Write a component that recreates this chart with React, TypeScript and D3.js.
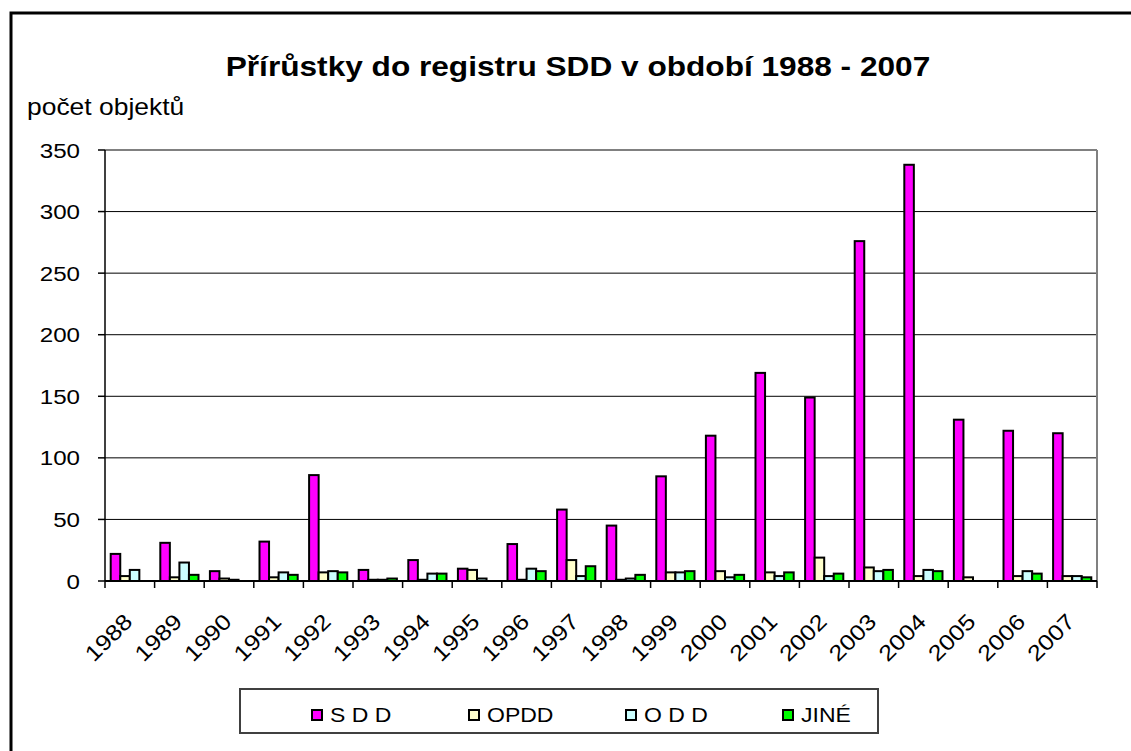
import React from 'react';
import * as d3 from 'd3';

// data
const years = ['1988', '1989', '1990', '1991', '1992', '1993', '1994', '1995', '1996', '1997',
  '1998', '1999', '2000', '2001', '2002', '2003', '2004', '2005', '2006', '2007'];
const sdd = [22, 31, 8, 32, 86, 9, 17, 10, 30, 58, 45, 85, 118, 169, 149, 276, 338, 131, 122, 120];
const opdd = [4, 3, 2, 3, 7, 1, 1, 9, 1, 17, 1, 7, 8, 7, 19, 11, 4, 3, 4, 4];
const odd = [9, 15, 1, 7, 8, 1, 6, 2, 10, 4, 2, 7, 3, 4, 4, 8, 9, 0, 8, 4];
const jine = [0, 5, 0, 5, 7, 2, 6, 0, 8, 12, 5, 8, 5, 7, 6, 9, 8, 0, 6, 3];
const seriesNames = ['S D D', 'OPDD', 'O D D', 'JINÉ'];
const seriesColors = ['#ff00ff', '#ffffcc', '#ccffff', '#00ff00'];
const yTicks = [0, 50, 100, 150, 200, 250, 300, 350];

const W = 1131;
const H = 751;
const plot = { left: 105, right: 1097, top: 150, bottom: 581 };
const FONT = '"Liberation Sans", Arial, sans-serif';
const SX = 1.15; // text in the picture is a bit wider than plain Arial

const Txt = ({ x, y, size, anchor = 'start', bold = false, children }: any) => (
  <text
    transform={`translate(${x},${y}) scale(${SX},1)`}
    fontFamily={FONT}
    fontSize={size}
    fontWeight={bold ? 'bold' : 'normal'}
    textAnchor={anchor}
    fill="#000"
  >
    {children}
  </text>
);

export default function App() {
  const series = [sdd, opdd, odd, jine];

  const x0 = d3.scaleBand().domain(years).range([plot.left, plot.right]).paddingInner(0.23).paddingOuter(0.115);
  const x1 = d3.scaleBand().domain(seriesNames).range([0, x0.bandwidth()]);
  const y = d3.scaleLinear().domain([0, 350]).range([plot.bottom, plot.top]);
  const step = (plot.right - plot.left) / years.length;

  return (
    <svg width={W} height={H} style={{ position: 'absolute', left: 0, top: 0, background: '#fff' }}>
      <rect x={0} y={0} width={W} height={H} fill="#fff" />
      {/* outer chart frame */}
      <rect x={11} y={13} width={W + 50} height={H + 50} fill="none" stroke="#000" strokeWidth={3} />

      <Txt x={578} y={76} size={27.5} anchor="middle" bold>
        Přírůstky do registru SDD v období 1988 - 2007
      </Txt>
      <Txt x={27} y={115} size={23}>počet objektů</Txt>

      {/* gridlines */}
      {yTicks.map((t) => (
        <line key={t} x1={plot.left} x2={plot.right} y1={y(t)} y2={y(t)} stroke="#000" strokeWidth={1} />
      ))}
      {/* plot border top/right */}
      <line x1={plot.left} x2={plot.right} y1={plot.top} y2={plot.top} stroke="#808080" strokeWidth={2} />
      <line x1={plot.right} x2={plot.right} y1={plot.top} y2={plot.bottom} stroke="#808080" strokeWidth={2} />

      {/* y axis */}
      <line x1={plot.left} x2={plot.left} y1={plot.top} y2={plot.bottom} stroke="#000" strokeWidth={1.5} />
      {yTicks.map((t) => (
        <g key={'yt' + t}>
          <line x1={plot.left - 7} x2={plot.left} y1={y(t)} y2={y(t)} stroke="#000" strokeWidth={1.5} />
          <Txt x={80} y={y(t) + 7.5} size={21} anchor="end">{t}</Txt>
        </g>
      ))}

      {/* bars */}
      {years.map((yr, i) => (
        <g key={yr}>
          {series.map((s, j) => (
            s[i] > 0 ? (
              <rect
                key={j}
                x={(x0(yr) as number) + (x1(seriesNames[j]) as number)}
                y={y(s[i])}
                width={x1.bandwidth()}
                height={plot.bottom - y(s[i])}
                fill={seriesColors[j]}
                stroke="#000"
                strokeWidth={2}
              />
            ) : null
          ))}
        </g>
      ))}

      {/* x axis */}
      <line x1={plot.left} x2={plot.right} y1={plot.bottom} y2={plot.bottom} stroke="#000" strokeWidth={2} />
      {d3.range(years.length + 1).map((k) => (
        <line key={'xt' + k} x1={plot.left + k * step} x2={plot.left + k * step} y1={plot.bottom} y2={plot.bottom + 7} stroke="#000" strokeWidth={1.5} />
      ))}
      {years.map((yr) => {
        const cx = (x0(yr) as number) + x0.bandwidth() / 2;
        return (
          <text
            key={'xl' + yr}
            transform={`translate(${cx + 4},${623}) rotate(-45) scale(${SX},1)`}
            fontFamily={FONT}
            fontSize={22}
            textAnchor="end"
          >
            {yr}
          </text>
        );
      })}

      {/* legend */}
      <rect x={240} y={689} width={638} height={44} fill="#fff" stroke="#404040" strokeWidth={2} />
      {seriesNames.map((n, j) => {
        const lx = 312 + j * 157;
        return (
          <g key={'lg' + n}>
            <rect x={lx} y={710} width={10} height={10} fill={seriesColors[j]} stroke="#000" strokeWidth={2} />
            <Txt x={lx + 18} y={722} size={20}>{n}</Txt>
          </g>
        );
      })}
    </svg>
  );
}
